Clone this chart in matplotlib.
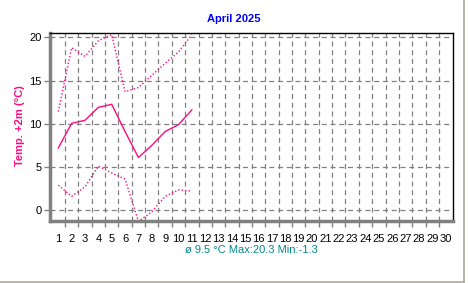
import numpy as np
import matplotlib
matplotlib.use("Agg")
import matplotlib.pyplot as plt
from matplotlib.lines import Line2D

plt.rcParams['font.family'] = ['Liberation Sans', 'DejaVu Sans']

days = [1, 2, 3, 4, 5, 6, 7, 8, 9, 10, 11]
t_mean = [7.2, 10.05, 10.4, 11.9, 12.25, 9.1, 6.1, 7.5, 9.1, 9.9, 11.6]
t_max = [11.4, 18.8, 17.8, 19.6, 20.3, 13.7, 14.2, 15.6, 17.0, 18.3, 20.3]
t_min = [2.9, 1.6, 2.7, 5.1, 4.3, 3.6, -1.3, -0.2, 1.6, 2.35, 2.2]
day_labels = [str(d) for d in range(1, 31)]

title = "April 2025"
ylabel = "Temp. +2m (°C)"
footer = "ø 9.5 °C Max:20.3 Min:-1.3"

line_col = '#ff0a80'
grid_col = '#808080'

fig = plt.figure(figsize=(4.68, 2.83), dpi=100)
ax = fig.add_axes([50 / 468, 1 - 221 / 283, 403 / 468, 188 / 283])

ax.plot(days, t_mean, color=line_col, lw=1.0)
ax.plot(days, t_max, color=line_col, lw=1.0, ls=(0, (1, 1.5)))
ax.plot(days, t_min, color=line_col, lw=1.0, ls=(0, (1, 1.5)))

ax.set_xlim(0.38, 30.55)
ax.set_ylim(-1.25, 20.5)

# grid lines sit between the days, labels on the days
ax.set_xticks(np.arange(1.5, 30, 1.0))
ax.set_xticklabels([])
ax.set_xticks(np.arange(1, 31), minor=True)
ax.set_xticklabels(day_labels, minor=True)
ax.tick_params(axis='x', which='minor', length=0, pad=9, labelsize=8)
ax.tick_params(axis='x', which='major', length=4, width=1, color=grid_col, direction='out')
ax.set_yticks([0, 5, 10, 15, 20])
ax.tick_params(axis='y', length=4, width=1, color=grid_col, labelsize=8, pad=2)

ax.grid(True, which='major', color=grid_col, ls=(0, (4, 3)), lw=0.9)

for s in ['left', 'bottom']:
    ax.spines[s].set_color(grid_col)
    ax.spines[s].set_linewidth(2.5)
for s in ['top', 'right']:
    ax.spines[s].set_color('black')
    ax.spines[s].set_linewidth(1.0)

fig.text(234 / 468, 1 - 19 / 283, title, color='#0000ff', fontsize=8,
         fontweight='bold', ha='center', va='center')
fig.text(20 / 468, 1 - 126 / 283, ylabel, color=line_col, fontsize=8,
         fontweight='bold', rotation=90, ha='center', va='center')
fig.text(251 / 468, 1 - 250 / 283, footer, color='#008c8c', fontsize=8,
         ha='center', va='center')

# grey frame at right and bottom edge
fig.add_artist(Line2D([463.5 / 468, 463.5 / 468], [1 - 281.5 / 283, 1], color='#a8a898', lw=1.2))
fig.add_artist(Line2D([0, 463.5 / 468], [1 - 281.5 / 283, 1 - 281.5 / 283], color='#a8a898', lw=1.2))

fig.savefig('out.png', dpi=100)
